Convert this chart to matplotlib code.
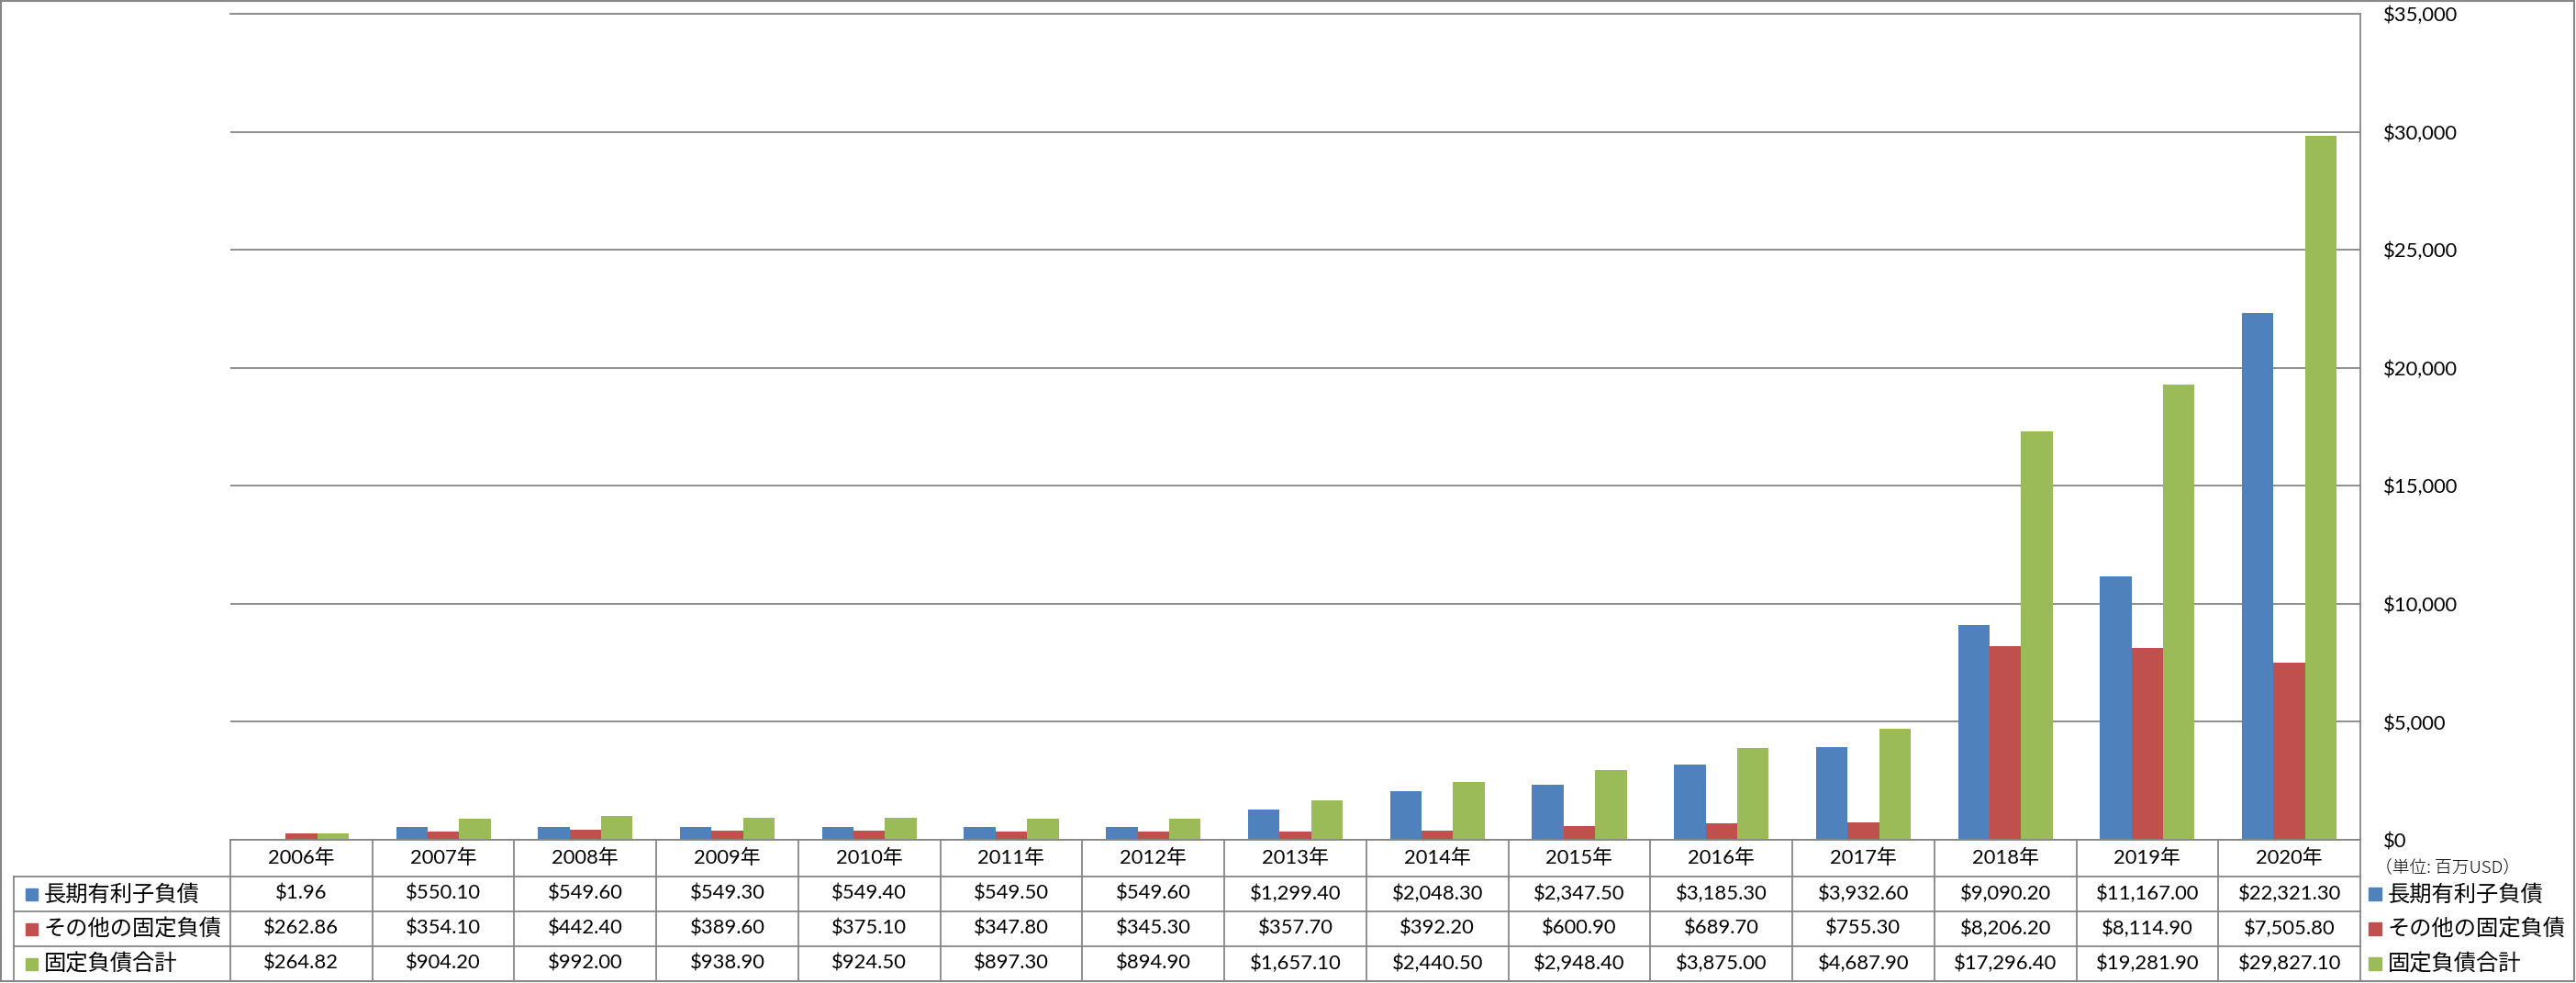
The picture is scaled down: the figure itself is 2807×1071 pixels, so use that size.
# coding=utf-8
# 固定負債の推移（棒グラフ＋データテーブル）

import matplotlib
matplotlib.use('Agg')
import matplotlib.pyplot as plt
import matplotlib.transforms as mtransforms
from matplotlib.lines import Line2D
from matplotlib.patches import Rectangle
from matplotlib.ticker import FuncFormatter
import numpy as np

plt.rcParams['font.family'] = ['Lato', 'Noto Sans CJK JP', 'DejaVu Sans']

# データ
years = ['2006年', '2007年', '2008年', '2009年', '2010年', '2011年', '2012年', '2013年',
         '2014年', '2015年', '2016年', '2017年', '2018年', '2019年', '2020年']
series_names = ['長期有利子負債', 'その他の固定負債', '固定負債合計']
long_term_debt = [1.96, 550.10, 549.60, 549.30, 549.40, 549.50, 549.60, 1299.40,
                  2048.30, 2347.50, 3185.30, 3932.60, 9090.20, 11167.00, 22321.30]
other_fixed = [262.86, 354.10, 442.40, 389.60, 375.10, 347.80, 345.30, 357.70,
               392.20, 600.90, 689.70, 755.30, 8206.20, 8114.90, 7505.80]
fixed_total = [264.82, 904.20, 992.00, 938.90, 924.50, 897.30, 894.90, 1657.10,
               2440.50, 2948.40, 3875.00, 4687.90, 17296.40, 19281.90, 29827.10]
y_ticks = [0, 5000, 10000, 15000, 20000, 25000, 30000, 35000]
unit_label = '（単位: 百万USD）'

colors = ['#4F81BD', '#C0504D', '#9BBB59']
grid_c = '#868686'

# 画像サイズ（ピクセル）
W, H = 2807, 1071


def fx(px):
    return px / W


def fy(py):
    return 1 - py / H


fig = plt.figure(figsize=(W / 100, H / 100), dpi=100)
ax = fig.add_axes([fx(251), fy(915), fx(2572) - fx(251), fy(15) - fy(915)])

all_series = [long_term_debt, other_fixed, fixed_total]
x = np.arange(len(years))
bw = 1 / 4.5
for k, (vals, name, c) in enumerate(zip(all_series, series_names, colors)):
    ax.bar(x + (k - 1) * bw, vals, width=bw, color=c, label=name, zorder=2)

ax.set_xlim(-0.5, len(years) - 0.5)
ax.set_ylim(0, 35000)
ax.set_yticks(y_ticks)
ax.yaxis.tick_right()
ax.yaxis.set_major_formatter(FuncFormatter(lambda v, p: '${:,.0f}'.format(v)))
ax.tick_params(axis='y', length=0, pad=18, labelsize=15.8)
for lb in ax.get_yticklabels():
    lb.set_horizontalalignment('left')
ax.tick_params(axis='x', bottom=False, labelbottom=False)
ax.grid(axis='y', color=grid_c, linewidth=1.3, zorder=0)
ax.set_axisbelow(True)
ax.spines['left'].set_visible(False)
for s in ['top', 'right', 'bottom']:
    ax.spines[s].set_color(grid_c)
    ax.spines[s].set_linewidth(1.3)

# データテーブル
trans = mtransforms.blended_transform_factory(ax.transData, fig.transFigure)
row_lines = [955, 993, 1031]
row_centers = [974, 1012, 1050]
table_bottom = 1068

for b in np.arange(-0.5, len(years)):
    ax.add_line(Line2D([b, b], [fy(915), fy(table_bottom)], transform=trans,
                       color=grid_c, linewidth=1.3, clip_on=False))
for yl in row_lines:
    fig.add_artist(Line2D([fx(15), fx(2572)], [fy(yl), fy(yl)], color=grid_c, linewidth=1.3))
fig.add_artist(Line2D([fx(15), fx(15)], [fy(955), fy(table_bottom)], color=grid_c, linewidth=1.3))

for i, yr in enumerate(years):
    ax.text(i, fy(935), yr, transform=trans, ha='center', va='center',
            fontsize=15.8, clip_on=False)

for r, (vals, name, c) in enumerate(zip(all_series, series_names, colors)):
    yc = row_centers[r]
    for i, v in enumerate(vals):
        ax.text(i, fy(yc), '${:,.2f}'.format(v), transform=trans, ha='center',
                va='center', fontsize=15.8, clip_on=False)
    # 行見出し
    fig.add_artist(Rectangle((fx(28), fy(yc + 7)), fx(13), fy(0) - fy(13), color=c))
    fig.text(fx(48), fy(yc + 1), name, ha='left', va='center', fontsize=17.5,
             family=['Noto Sans CJK JP'])
    # 凡例
    fig.add_artist(Rectangle((fx(2581), fy(yc + 7)), fx(14), fy(0) - fy(14), color=c))
    fig.text(fx(2602), fy(yc + 1), name, ha='left', va='center', fontsize=17.5,
             family=['Noto Sans CJK JP'])

fig.text(fx(2588), fy(945), unit_label, ha='left', va='center', fontsize=13.5,
         family=['Noto Sans CJK JP'], fontweight='light')

# 外枠
fig.add_artist(Rectangle((fx(1), fy(1069)), fx(2804), fy(1) - fy(1069), fill=False,
                         edgecolor=grid_c, linewidth=1.5))

fig.savefig('out.png', dpi=100)
